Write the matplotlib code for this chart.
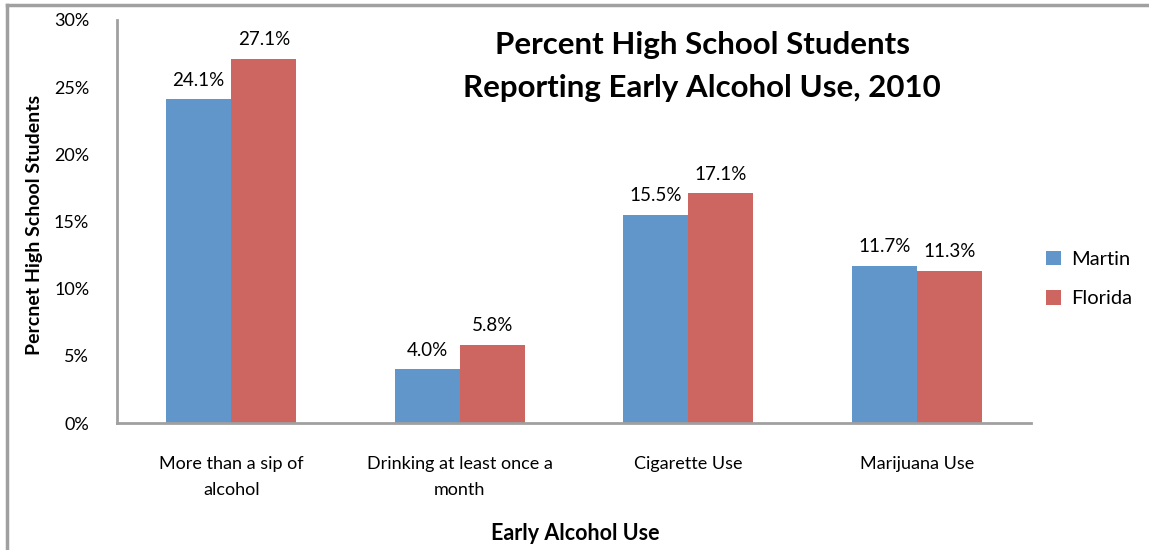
import matplotlib.pyplot as plt
import numpy as np
from matplotlib.lines import Line2D

categories = ["More than a sip of\nalcohol", "Drinking at least once a\nmonth",
              "Cigarette Use", "Marijuana Use"]
martin = [24.1, 4.0, 15.5, 11.7]
florida = [27.1, 5.8, 17.1, 11.3]
yticks = [0, 5, 10, 15, 20, 25, 30]

plt.rcParams["font.family"] = ["Lato", "DejaVu Sans"]

blue = "#6196cb"
red = "#cd6560"
grey = "#a0a0a0"

fig = plt.figure(figsize=(11.49, 5.5), dpi=100)
ax = fig.add_axes([117 / 1149, 1 - 423 / 550, (1031 - 117) / 1149, (423 - 20) / 550])

x = np.arange(len(categories))
w = 0.285
b1 = ax.bar(x - w / 2, martin, w, color=blue, label="Martin")
b2 = ax.bar(x + w / 2, florida, w, color=red, label="Florida")

for bars, vals in ((b1, martin), (b2, florida)):
    for r, v in zip(bars, vals):
        ax.text(r.get_x() + r.get_width() / 2, v + 0.8, f"{v:.1f}%",
                ha="center", va="bottom", fontsize=13.5)

ax.set_xlim(-0.5, len(categories) - 0.5)
ax.set_ylim(0, 30)
ax.set_yticks(yticks)
ax.set_yticklabels([f"{t}%" for t in yticks], fontsize=13)
ax.set_xticks(x)
ax.set_xticklabels(categories, fontsize=13, linespacing=1.75)
ax.tick_params(length=0)
ax.tick_params(axis="y", pad=20)
ax.tick_params(axis="x", pad=24)
for s in ("top", "right"):
    ax.spines[s].set_visible(False)
for s in ("left", "bottom"):
    ax.spines[s].set_color(grey)
    ax.spines[s].set_linewidth(2)

ax.set_xlabel("Early Alcohol Use", fontsize=15.5, fontweight="bold", va="center")
ax.xaxis.set_label_coords((575 - 117) / (1031 - 117), -(533 - 423) / (423 - 20))
fig.text(35 / 1149, 1 - 225 / 550, "Percnet High School Students", rotation=90,
         ha="center", va="center", fontsize=14, fontweight="bold")

fig.text(702 / 1149, 1 - 45 / 550, "Percent High School Students", ha="center",
         va="center", fontsize=22.5, fontweight="bold")
fig.text(702 / 1149, 1 - 88 / 550, "Reporting Early Alcohol Use, 2010", ha="center",
         va="center", fontsize=22.5, fontweight="bold")

fig.legend(handles=[b1, b2], loc="center left", bbox_to_anchor=(1028 / 1149, 1 - 279 / 550),
           frameon=False, fontsize=14.5, handlelength=0.75, handleheight=0.75,
           labelspacing=1.1, handletextpad=0.5)

# outer frame (top and left edges visible)
fig.add_artist(Line2D([7 / 1149, 7 / 1149], [0, 1 - 5 / 550], color=grey, lw=2.5,
                      transform=fig.transFigure))
fig.add_artist(Line2D([7 / 1149, 1], [1 - 5 / 550, 1 - 5 / 550], color=grey, lw=2.5,
                      transform=fig.transFigure))

fig.savefig("out.png", dpi=100)
